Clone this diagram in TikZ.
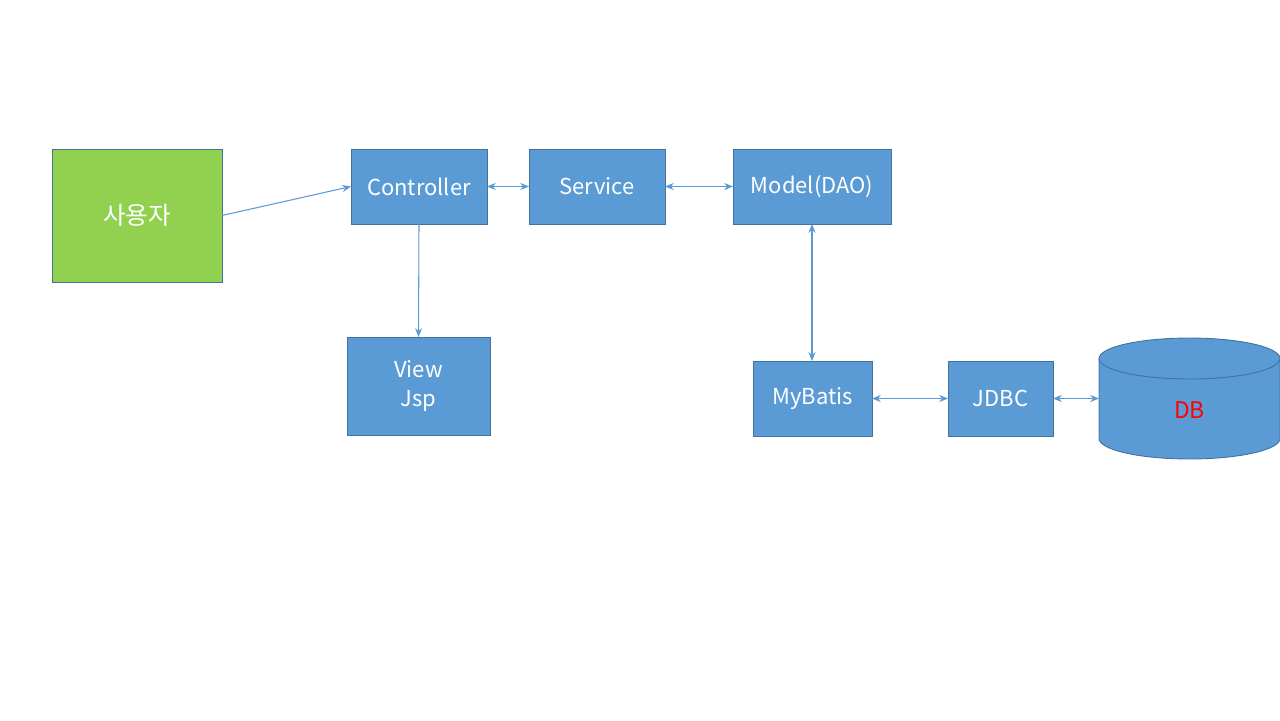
\documentclass[tikz,border=0pt]{standalone}
\usepackage{fontspec}
\setmainfont{Noto Sans CJK KR}
\usetikzlibrary{arrows.meta}
\definecolor{boxblue}{HTML}{5B9BD5}
\definecolor{boxline}{HTML}{41719C}
\definecolor{usergreen}{HTML}{92D050}
\tikzset{
  box/.style={draw=boxline, fill=boxblue, line width=0.5pt, text=white,
    inner sep=0pt, outer sep=0pt, align=center, font=\fontsize{12.5}{16}\selectfont},
  link/.style={draw=boxblue, line width=0.6pt, -{Stealth[length=5pt,width=4pt]}},
  both/.style={link, {Stealth[length=5pt,width=4pt]}-{Stealth[length=5pt,width=4pt]}}
}
\begin{document}
\begin{tikzpicture}[x=0.02cm,y=-0.02cm]
    \useasboundingbox (0,0) rectangle (1280,720);

    % left side
    \node[box, fill=usergreen, minimum width=3.4cm, minimum height=2.66cm,
          font=\fontsize{14}{16}\selectfont] (user) at (137, 215.5) {사용자};
    \node[box, minimum width=2.72cm, minimum height=1.5cm] (ctrl) at (419, 186.5) {Controller};
    \node[box, minimum width=2.86cm, minimum height=1.96cm] (view) at (418.5, 386) {View\\Jsp};

    % middle
    \node[box, minimum width=2.72cm, minimum height=1.5cm] (svc) at (597, 186.5) {Service};
    \node[box, minimum width=3.16cm, minimum height=1.5cm] (model) at (812, 186.5) {Model(DAO)};

    % bottom right
    \node[box, minimum width=2.38cm, minimum height=1.5cm] (mybatis) at (812.5, 398.5) {MyBatis};
    \node[box, minimum width=2.1cm, minimum height=1.5cm] (jdbc) at (1000.5, 398.5) {JDBC};

    % DB cylinder
    \node[inner sep=0pt, outer sep=0pt, minimum width=3.62cm, minimum height=1.6cm] (db) at (1189.5, 398.5) {};
    \fill[boxblue] (db.north west) -- (db.south west)
        arc[start angle=180, end angle=360, x radius=1.81cm, y radius=0.41cm]
        -- (db.north east) -- cycle;
    \draw[boxline, line width=0.5pt] (db.north west) -- (db.south west)
        arc[start angle=180, end angle=360, x radius=1.81cm, y radius=0.41cm]
        -- (db.north east);
    \draw[boxline, fill=boxblue, line width=0.5pt] (db.north) ellipse[x radius=1.81cm, y radius=0.41cm];
    \node[text=red, font=\fontsize{13}{16}\selectfont] (dblabel) at (1189.5, 410) {DB};

    % connectors
    \draw[link] (user.east) -- (ctrl.west);
    \draw[link] (ctrl.south) -- (view.north);
    \draw[both] (ctrl.east) -- (svc.west);
    \draw[both] (svc.east) -- (model.west);
    \draw[both] (model.south) -- (mybatis.north -| model.south);
    \draw[both] (mybatis.east) -- (jdbc.west);
    \draw[both] (jdbc.east) -- (db.west);
\end{tikzpicture}
\end{document}
